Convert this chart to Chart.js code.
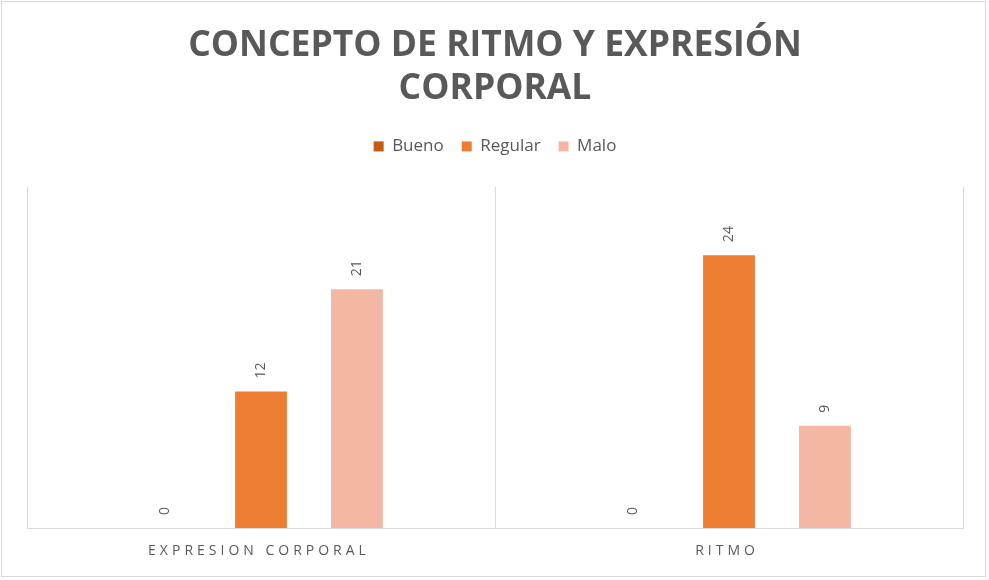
<!DOCTYPE html>
<html>
<head>
<meta charset="utf-8">
<script src="https://cdn.jsdelivr.net/npm/chart.js@4.4.1/dist/chart.umd.min.js"></script>
<style>
  html, body { margin: 0; padding: 0; background: #fff; }
  #wrap { width: 989px; height: 580px; }
</style>
</head>
<body>
<div id="wrap"><canvas id="chart" width="989" height="580"></canvas></div>
<script>
const categories = ["EXPRESION CORPORAL", "RITMO"];
const seriesNames = ["Bueno", "Regular", "Malo"];
const bueno = [0, 0];
const regular = [12, 24];
const malo = [21, 9];
const titleLines = ["CONCEPTO DE RITMO Y EXPRESIÓN", "CORPORAL"];

const colors = ["#c55a11", "#ed7d31", "#f4b7a4"];
const textGray = "#595959";

// frame + category labels with spacing + rotated value labels
const extras = {
  id: "extras",
  beforeInit(chart) {
    // more room under the legend
    const fit = chart.legend.fit;
    chart.legend.fit = function () {
      fit.call(this);
      this.height += 22;
    };
  },
  beforeDraw(chart) {
    const ctx = chart.ctx;
    ctx.save();
    ctx.strokeStyle = "#d9d9d9";
    ctx.lineWidth = 1;
    ctx.strokeRect(1.5, 1.5, 984, 575);
    ctx.restore();
  },
  afterDatasetsDraw(chart) {
    const ctx = chart.ctx;
    const xs = chart.scales.x;
    ctx.save();
    ctx.fillStyle = textGray;
    ctx.font = "14px 'Open Sans'";
    ctx.letterSpacing = "4px";
    ctx.textAlign = "center";
    ctx.textBaseline = "middle";
    categories.forEach((c, i) => {
      ctx.fillText(c, xs.getPixelForValue(i) - 2, chart.chartArea.bottom + 23);
    });
    ctx.letterSpacing = "0px";
    ctx.textAlign = "left";
    chart.data.datasets.forEach((ds, di) => {
      chart.getDatasetMeta(di).data.forEach((bar, i) => {
        ctx.save();
        ctx.translate(bar.x, bar.y - 13);
        ctx.rotate(-Math.PI / 2);
        ctx.fillText(String(ds.data[i]), 0, 0);
        ctx.restore();
      });
    });
    ctx.restore();
  }
};

new Chart(document.getElementById("chart"), {
  type: "bar",
  data: {
    labels: categories,
    datasets: [
      { label: seriesNames[0], data: bueno, backgroundColor: colors[0] },
      { label: seriesNames[1], data: regular, backgroundColor: colors[1] },
      { label: seriesNames[2], data: malo, backgroundColor: colors[2] }
    ]
  },
  options: {
    responsive: false,
    animation: false,
    events: [],
    layout: { padding: { left: 27, right: 26, top: 14, bottom: 52 } },
    datasets: { bar: { categoryPercentage: 0.615, barPercentage: 0.54 } },
    plugins: {
      title: {
        display: true,
        text: titleLines,
        color: textGray,
        font: { family: "'Open Sans'", size: 35.5, weight: "bold", lineHeight: 1.21 },
        padding: { top: 10, bottom: 10 }
      },
      legend: {
        position: "top",
        labels: {
          color: textGray,
          font: { family: "'Open Sans'", size: 17 },
          boxWidth: 10,
          boxHeight: 10,
          padding: 18
        }
      },
      tooltip: { enabled: false }
    },
    scales: {
      x: {
        ticks: { display: false },
        grid: { color: "#d9d9d9", drawTicks: false, offset: true },
        border: { color: "#d9d9d9" }
      },
      y: { display: false, min: 0, max: 30 }
    }
  },
  plugins: [extras]
});
</script>
</body>
</html>
